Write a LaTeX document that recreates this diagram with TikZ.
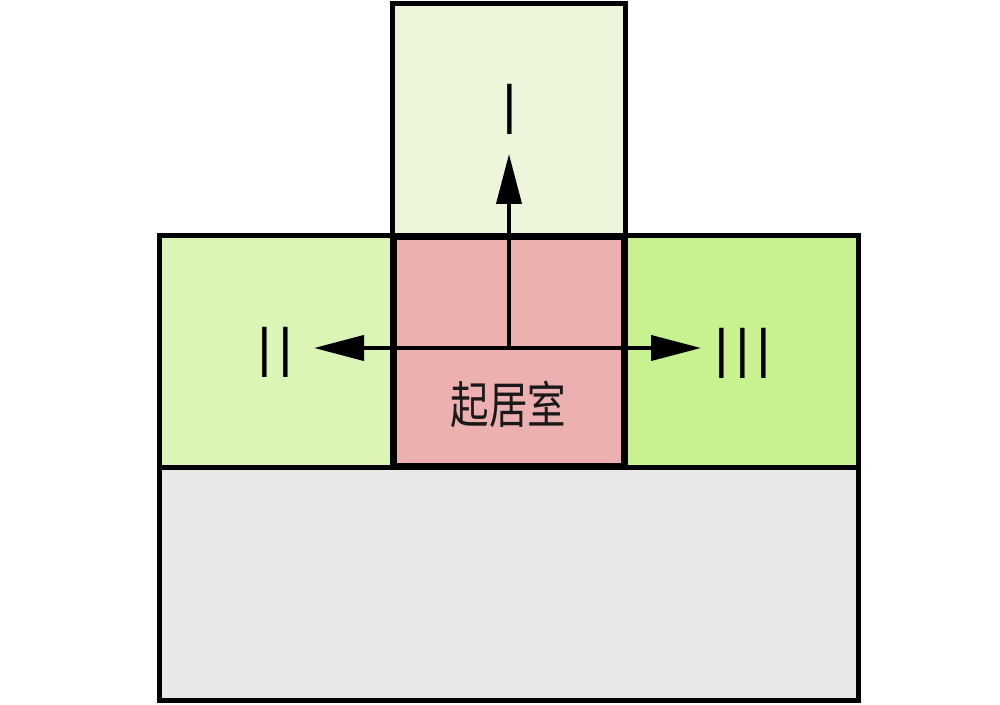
\documentclass[tikz,border=0pt]{standalone}
\usepackage{fontspec}
\setmainfont{Liberation Sans}
\newfontfamily\cjk{Noto Sans CJK SC}
\newfontfamily\thinnum{Fira Sans Light}
\usetikzlibrary{arrows.meta}
\definecolor{topgreen}{HTML}{EDF6DA}
\definecolor{leftgreen}{HTML}{DBF5B6}
\definecolor{rightgreen}{HTML}{C8F290}
\definecolor{pinkroom}{HTML}{EDB0B1}
\definecolor{grayzone}{HTML}{E8E8E6}
\tikzset{
  zone/.style={draw=black, line width=3.75pt, line join=miter},
  core/.style={draw=black, line width=5.25pt, line join=miter},
  flow/.style={line width=3pt, -{Triangle[length=37.5pt,width=18.75pt]}},
  numeral/.style={font=\thinnum\fontsize{55}{55}\selectfont, inner sep=0pt, text=black},
  roomlabel/.style={font=\cjk\fontsize{37.5}{37.5}\selectfont, inner sep=0pt, xscale=0.77, text=black!90}
}
\begin{document}
\begin{tikzpicture}[x=0.75pt,y=-0.75pt]
\useasboundingbox (0,0) rectangle (1000,705);
\fill[white] (0,0) rectangle (1000,705);
% zones
\draw[zone, fill=grayzone] (159,468) rectangle (858,700);
\draw[zone, fill=leftgreen] (159,236) rectangle (392,468);
\draw[zone, fill=rightgreen] (625,236) rectangle (858,468);
\draw[zone, fill=topgreen] (392,4) rectangle (625,236);
\draw[core, fill=pinkroom] (393,237) rectangle (624,467);
% connector anchors
\coordinate (hub) at (509,348);
\coordinate (upT) at (509,154);
\coordinate (leftT) at (314,348);
\coordinate (rightT) at (701,348);
\draw[flow] (hub) -- (upT);
\draw[flow] (hub) -- (leftT);
\draw[flow] (hub) -- (rightT);
% labels
\node[numeral] (labI) at (510,109) {I};
\node[numeral] (labII) at (275,352) {II};
\node[numeral] (labIII) at (743,353) {III};
\node[roomlabel] (room) at (508.5,404.5) {起居室};
\end{tikzpicture}
\end{document}
